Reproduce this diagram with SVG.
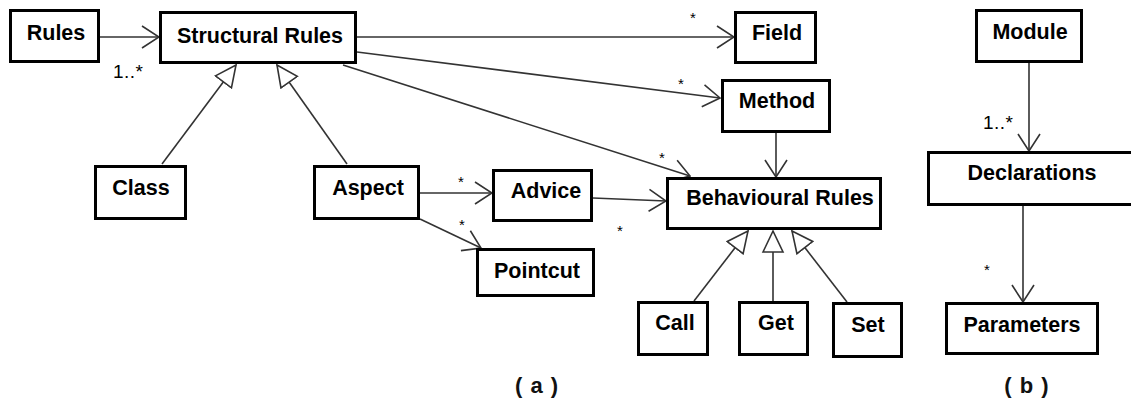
<svg xmlns="http://www.w3.org/2000/svg" width="1131" height="401" viewBox="0 0 1131 401">
<style>
.box{fill:#fff;stroke:#000;stroke-width:3}
.lbl{font-family:"Liberation Sans",Arial,sans-serif;font-weight:bold;font-size:21.5px;fill:#000;text-anchor:middle}
.c{stroke:#333;stroke-width:1.6;fill:none}
.arr{marker-end:url(#open)}
.gen{marker-end:url(#tri)}
.m{font-family:"Liberation Sans",Arial,sans-serif;font-size:15px;fill:#000;text-anchor:middle}
.mult{font-family:"Liberation Sans",Arial,sans-serif;font-size:19px;fill:#000;letter-spacing:0.5px}
.cap{font-family:"Liberation Sans",Arial,sans-serif;font-weight:bold;font-size:22px;fill:#111;text-anchor:middle;letter-spacing:1px}
</style>
<defs>
<marker id="open" markerUnits="userSpaceOnUse" viewBox="0 0 19 24" refX="18" refY="12" markerWidth="19" markerHeight="24" orient="auto">
<path d="M1,1 L18,12 L1,23" fill="none" stroke="#333" stroke-width="1.6"/>
</marker>
<marker id="tri" markerUnits="userSpaceOnUse" viewBox="0 0 24 24" refX="22" refY="12" markerWidth="24" markerHeight="24" orient="auto">
<path d="M1,2 L22,12 L1,22 Z" fill="#fff" stroke="#333" stroke-width="1.6"/>
</marker>
</defs>
<rect width="1131" height="401" fill="#fff"/>
<g id="connectors">
<line class="c arr" x1="100" y1="37" x2="159" y2="37"/>
<line class="c arr" x1="357" y1="37" x2="734" y2="37"/>
<line class="c arr" x1="357" y1="52" x2="720" y2="98"/>
<line class="c arr" x1="343" y1="65" x2="690" y2="176"/>
<line class="c arr" x1="776" y1="133" x2="776" y2="177"/>
<line class="c arr" x1="420" y1="193" x2="492" y2="193"/>
<line class="c arr" x1="593" y1="198" x2="666" y2="201"/>
<line class="c arr" x1="420" y1="219" x2="481" y2="248"/>
<line class="c arr" x1="1029" y1="63" x2="1029" y2="151"/>
<line class="c arr" x1="1023" y1="206" x2="1023" y2="302"/>
<line class="c gen" x1="162" y1="164" x2="236" y2="65"/>
<line class="c gen" x1="347" y1="164" x2="277" y2="65"/>
<line class="c gen" x1="694" y1="301" x2="748" y2="231"/>
<line class="c gen" x1="773" y1="301" x2="773" y2="231"/>
<line class="c gen" x1="847" y1="302" x2="792" y2="231"/>
<text class="mult" x="113" y="78">1..*</text>
<text class="m" x="693" y="23">*</text>
<text class="m" x="681" y="89">*</text>
<text class="m" x="662" y="163">*</text>
<text class="m" x="461" y="187">*</text>
<text class="m" x="462" y="230">*</text>
<text class="m" x="620" y="236">*</text>
<text class="mult" x="983" y="129">1..*</text>
<text class="m" x="987" y="275">*</text>
</g>
<g id="rules"><rect class="box" x="10.5" y="10.5" width="88" height="51"/><text class="lbl" x="56" y="40">Rules</text></g>
<g id="structural"><rect class="box" x="160.5" y="12.5" width="195" height="50"/><text class="lbl" x="260" y="43">Structural Rules</text></g>
<g id="field"><rect class="box" x="735.5" y="12.5" width="80" height="50"/><text class="lbl" x="777" y="40">Field</text></g>
<g id="method"><rect class="box" x="722.5" y="80.5" width="107" height="51"/><text class="lbl" x="777" y="108">Method</text></g>
<g id="class"><rect class="box" x="95.5" y="166.5" width="90" height="52"/><text class="lbl" x="141" y="195">Class</text></g>
<g id="aspect"><rect class="box" x="314.5" y="166.5" width="104" height="52"/><text class="lbl" x="368" y="195">Aspect</text></g>
<g id="advice"><rect class="box" x="493.5" y="170.5" width="98" height="50"/><text class="lbl" x="546" y="198">Advice</text></g>
<g id="behavioural"><rect class="box" x="667.5" y="178.5" width="213" height="50"/><text class="lbl" x="780" y="205">Behavioural Rules</text></g>
<g id="pointcut"><rect class="box" x="477.5" y="249.5" width="116" height="46"/><text class="lbl" x="537" y="278">Pointcut</text></g>
<g id="call"><rect class="box" x="638.5" y="302.5" width="69" height="52"/><text class="lbl" x="675" y="330">Call</text></g>
<g id="get"><rect class="box" x="739.5" y="302.5" width="68" height="52"/><text class="lbl" x="776" y="330">Get</text></g>
<g id="set"><rect class="box" x="833.5" y="303.5" width="68" height="53"/><text class="lbl" x="868" y="332">Set</text></g>
<g id="module"><rect class="box" x="976.5" y="10.5" width="105" height="51"/><text class="lbl" x="1030" y="39">Module</text></g>
<g id="declarations"><rect class="box" x="928.5" y="152.5" width="205" height="52"/><text class="lbl" x="1032" y="180">Declarations</text></g>
<g id="parameters"><rect class="box" x="946.5" y="303.5" width="151" height="50"/><text class="lbl" x="1022" y="332">Parameters</text></g>
<text class="cap" x="537" y="393">( a )</text>
<text class="cap" x="1027" y="393">( b )</text>
</svg>
